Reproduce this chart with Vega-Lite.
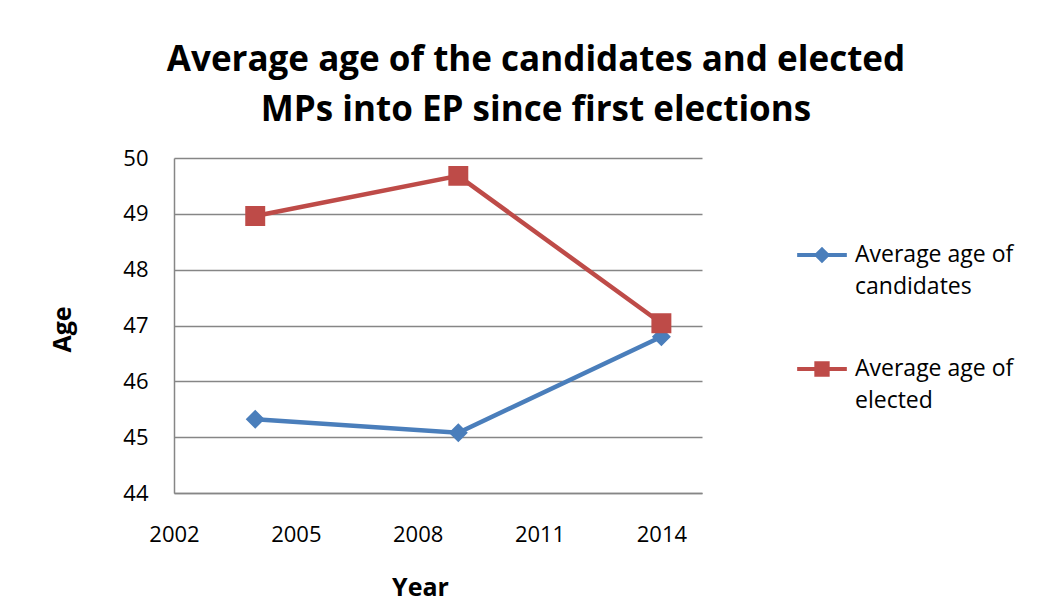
{
  "$schema": "https://vega.github.io/schema/vega-lite/v6.json",
  "width": 528,
  "height": 335,
  "autosize": "none",
  "padding": {"left": 174, "top": 158, "right": 350, "bottom": 117},
  "background": "white",
  "config": {
    "font": "Open Sans",
    "view": {"stroke": null}
  },
  "title": {
    "text": ["Average age of the candidates and elected", "MPs into EP since first elections"],
    "font": "Open Sans",
    "fontSize": 35,
    "fontWeight": "bold",
    "color": "black",
    "anchor": "middle",
    "frame": "group",
    "dx": 98,
    "lineHeight": 50,
    "offset": 19
  },
  "data": {
    "values": [
      {"year": 2004, "series": "Average age of candidates", "age": 45.32},
      {"year": 2009, "series": "Average age of candidates", "age": 45.08},
      {"year": 2014, "series": "Average age of candidates", "age": 46.8},
      {"year": 2004, "series": "Average age of elected", "age": 48.96},
      {"year": 2009, "series": "Average age of elected", "age": 49.68},
      {"year": 2014, "series": "Average age of elected", "age": 47.04}
    ]
  },
  "encoding": {
    "x": {
      "field": "year",
      "type": "quantitative",
      "scale": {"domain": [2002, 2015], "nice": false, "zero": false},
      "axis": {
        "title": "Year",
        "values": [2002, 2005, 2008, 2011, 2014],
        "format": "d",
        "grid": false,
        "ticks": false,
        "tickSize": 0,
        "domainColor": "#868686",
        "domainWidth": 1.5,
        "labelFont": "Open Sans",
        "labelFontSize": 22,
        "labelColor": "black",
        "labelPadding": 31,
        "labelFlush": false,
        "titleFont": "Open Sans",
        "titleFontSize": 25,
        "titleFontWeight": "bold",
        "titleColor": "black",
        "titleX": 246,
        "titleY": 102,
        "titleBaseline": "alphabetic"
      }
    },
    "y": {
      "field": "age",
      "type": "quantitative",
      "scale": {"domain": [44, 50], "nice": false, "zero": false},
      "axis": {
        "title": "Age",
        "values": [44, 45, 46, 47, 48, 49, 50],
        "grid": true,
        "gridColor": "#868686",
        "gridWidth": 1.5,
        "ticks": false,
        "tickSize": 0,
        "domainColor": "#868686",
        "domainWidth": 1.5,
        "labelFont": "Open Sans",
        "labelFontSize": 22,
        "labelColor": "black",
        "labelPadding": 26,
        "titleFont": "Open Sans",
        "titleFontSize": 25,
        "titleFontWeight": "bold",
        "titleColor": "black",
        "titleX": -99,
        "titleY": 171,
        "titleAngle": 270,
        "titleAlign": "center",
        "titleBaseline": "bottom"
      }
    }
  },
  "layer": [
    {
      "mark": {"type": "line", "strokeWidth": 4.5},
      "encoding": {
        "color": {
          "field": "series",
          "type": "nominal",
          "scale": {
            "domain": ["Average age of candidates", "Average age of elected"],
            "range": ["#4A7EBB", "#BE4B48"]
          },
          "legend": {
            "orient": "none",
            "legendX": 619,
            "legendY": 68,
            "title": null,
            "padding": 0,
            "symbolSize": 2916,
            "symbolStrokeWidth": 4,
            "symbolOpacity": 1,
            "labelFont": "Open Sans",
            "labelFontSize": 23,
            "labelColor": "black",
            "labelLimit": 300,
            "labelBaseline": "middle",
            "labelOffset": 4,
            "rowPadding": 41,
            "labelExpr": "datum.label === 'Average age of candidates' ? ['Average age of', 'candidates'] : ['Average age of', 'elected']",
            "encode": {
              "labels": {"update": {"lineHeight": {"value": 32}}}
            }
          }
        }
      }
    },
    {
      "mark": {"type": "point", "filled": true, "opacity": 1, "size": 9025},
      "encoding": {
        "color": {
          "field": "series",
          "type": "nominal",
          "scale": {
            "domain": ["Average age of candidates", "Average age of elected"],
            "range": ["#4A7EBB", "#BE4B48"]
          },
          "legend": null
        },
        "shape": {
          "field": "series",
          "type": "nominal",
          "scale": {
            "domain": ["Average age of candidates", "Average age of elected"],
            "range": [
              "M-0.92,0H0.92M0,-0.2L0.2,0L0,0.2L-0.2,0Z",
              "M-0.92,0H0.92M-0.21,-0.21H0.21V0.21H-0.21Z"
            ]
          },
          "legend": null
        }
      }
    }
  ]
}
